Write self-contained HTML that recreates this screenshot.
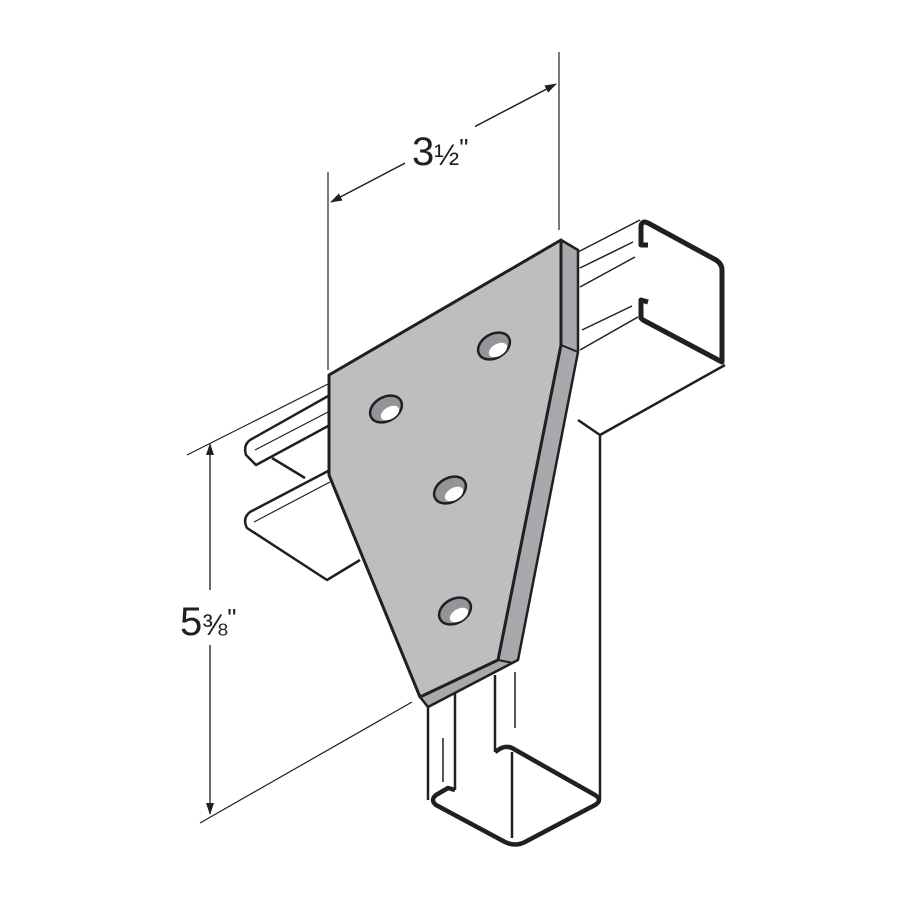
<!DOCTYPE html>
<html><head><style>body{margin:0;background:#fff}svg{display:block}</style></head><body>
<svg width="900" height="900" viewBox="0 0 900 900" xmlns="http://www.w3.org/2000/svg" font-family="Liberation Sans, sans-serif">
<defs><marker id="a" markerWidth="12" markerHeight="8" refX="11" refY="4" orient="auto" markerUnits="userSpaceOnUse"><path d="M0,0 L12,4 L0,8 z" fill="#231f20"/></marker></defs>
<g stroke="#231f20" fill="none" stroke-width="1.2">
<line x1="328" y1="172" x2="328" y2="370"/>
<line x1="559" y1="52" x2="559" y2="230"/>
<line x1="340" y1="197" x2="556" y2="84" marker-end="url(#a)"/>
<line x1="547" y1="89" x2="331" y2="202" marker-end="url(#a)"/>
<line x1="187" y1="455" x2="330" y2="383"/>
<line x1="200" y1="823" x2="412" y2="702"/>
<line x1="210" y1="455" x2="210" y2="814" marker-end="url(#a)"/>
<line x1="210" y1="800" x2="210" y2="444" marker-end="url(#a)"/>
</g>
<rect x="175" y="590" width="70" height="55" fill="#fff"/>
<rect x="405" y="125" width="70" height="50" fill="#fff"/>
<text x="412" y="165" font-size="40" fill="#231f20">3<tspan font-size="30">½</tspan><tspan font-size="26" dy="-8">"</tspan></text>
<text x="180" y="635" font-size="40" fill="#231f20">5<tspan font-size="30">⅜</tspan><tspan font-size="26" dy="-8">"</tspan></text>
<g stroke="#231f20" fill="#fff" stroke-width="3" stroke-linejoin="round">
<path d="M578,420 L600,435 L600,800" fill="none" stroke-width="2.5"/>
<path d="M600,435 L725,365" fill="none" stroke-width="2.5"/>
<!-- right channel -->
<path d="M578,252 L640,220 L640,318 L578,352 Z" stroke="none"/>
<path d="M578,252 L640,220 M580,268 L633,242 M580,287 L635,257 M580,350 L638,317 M582,330 L632,306" fill="none" stroke-width="1.5"/>
<path d="M648,245 L641,245 L641,226 Q642,220 648,223 L716,260 Q722,264 722,270 L722,362 L643,320 L641,318 L641,300 L648,302" fill="#fff" stroke-width="5"/>
<!-- left channel -->
<path d="M330,395 L250,440 Q243,445 246,455 L256,465 L330,425" stroke-width="2.5"/>
<path d="M255,450 L328,412" fill="none" stroke-width="1.2"/>
<path d="M330,470 L250,512 Q242,518 247,528 L327,580 L360,560" stroke-width="2.5"/>
<path d="M254,522 L330,482" fill="none" stroke-width="1.2"/>
<path d="M272,458 L305,478" fill="none" stroke-width="2.5"/>
<!-- post bottom -->
<path d="M428,706 L428,800 M455,690 L455,790 M495,675 L495,752 M512,752 L512,838" fill="none" stroke-width="2.5"/>
<path d="M443,738 L443,782 M515,672 L515,728" fill="none" stroke-width="1.5"/>
<path d="M455,790 L448,788 L436,795 Q430,800 436,805 L505,842 Q515,847 525,842 L595,805 Q603,800 595,795 L512,748 Q505,745 498,750 L495,752" fill="none" stroke-width="4.5"/>
<!-- plate -->
<path d="M561,240 L578,250 L578,352 L518,660 L428,707 L420,697 L498,660 L561,345 Z" fill="#a7a9ac" stroke-width="2.5"/>
<path d="M561,345 L578,352 M498,660 L513,663" fill="none" stroke-width="2"/>
<path d="M329,375 L561,240 L561,345 L498,660 L420,697 L329,475 Z" fill="#bcbec0" stroke-width="3"/>
</g>
<g stroke="#231f20" stroke-width="2.5">
<ellipse cx="386" cy="409" rx="17" ry="12" transform="rotate(-30 386 409)" fill="#939598"/>
<ellipse cx="494" cy="346" rx="17" ry="12" transform="rotate(-30 494 346)" fill="#939598"/>
<ellipse cx="450" cy="490" rx="17" ry="12" transform="rotate(-30 450 490)" fill="#939598"/>
<ellipse cx="455" cy="611" rx="17" ry="12" transform="rotate(-30 455 611)" fill="#939598"/>
</g>
<g fill="#fff">
<ellipse cx="390" cy="413" rx="10" ry="6" transform="rotate(-30 390 413)"/>
<ellipse cx="498" cy="350" rx="10" ry="6" transform="rotate(-30 498 350)"/>
<ellipse cx="454" cy="494" rx="10" ry="6" transform="rotate(-30 454 494)"/>
<ellipse cx="459" cy="615" rx="10" ry="6" transform="rotate(-30 459 615)"/>
</g>
</svg>
</body></html>
